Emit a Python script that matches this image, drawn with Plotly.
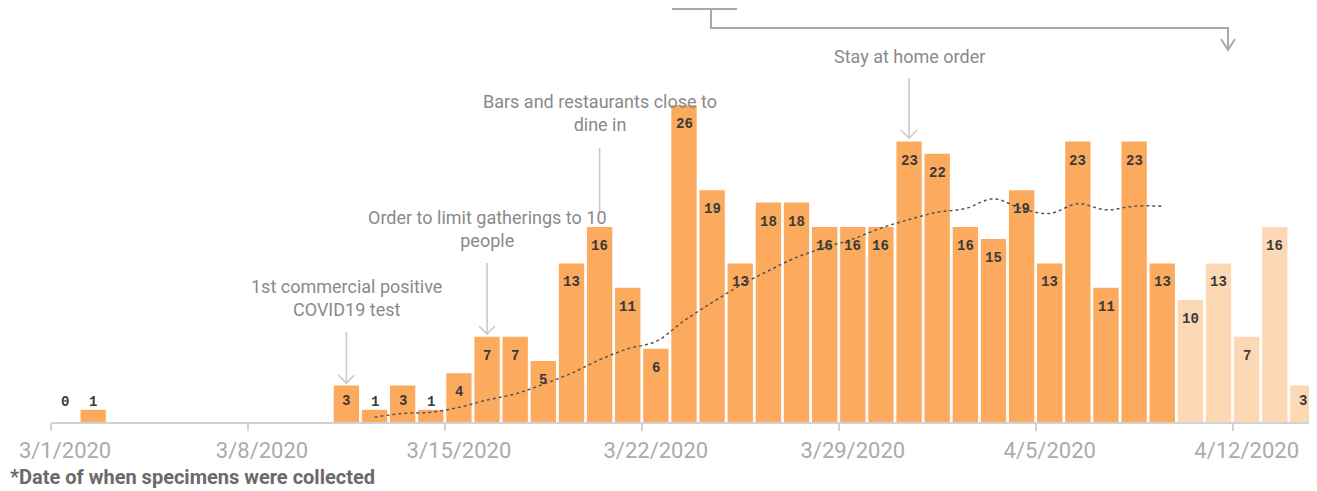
import pandas as pd
import plotly.graph_objects as go

# ---------------- data ----------------
dates = pd.date_range("2020-03-01", "2020-04-14", freq="D")
cases = [0, 1, None, None, None, None, None, None, None, None,
         3, 1, 3, 1, 4, 7, 7, 5, 13, 16,
         11, 6, 26, 19, 13, 18, 18, 16, 16, 16,
         23, 22, 16, 15, 19, 13, 23, 11, 23, 13,
         10, 13, 7, 16, 3]
preliminary_from = pd.Timestamp("2020-04-10")

avg_dates = pd.date_range("2020-03-12", "2020-04-09", freq="D")
avg_values = [0.4, 0.7, 0.8, 1.2, 1.8, 2.3, 3.1, 4.0, 5.1, 6.0,
              6.6, 8.3, 9.8, 11.2, 12.4, 13.5, 14.3, 15.0, 15.9, 16.6,
              17.2, 17.5, 18.3, 17.5, 17.1, 17.9, 17.4, 17.7, 17.7]

tick_dates = pd.date_range("2020-03-01", "2020-04-12", freq="7D")
tick_text = ["3/1/2020", "3/8/2020", "3/15/2020", "3/22/2020",
             "3/29/2020", "4/5/2020", "4/12/2020"]

events = [
    ("1st commercial positive<br>COVID19 test", "2020-03-11"),
    ("Order to limit gatherings to 10<br>people", "2020-03-16"),
    ("Bars and restaurants close to<br>dine in", "2020-03-20"),
    ("Stay at home order", "2020-03-31"),
]
footnote = "*Date of when specimens were collected"

# ---------------- styling ----------------
# The page places the figure 8px from the top-left corner of the window,
# so the layout below is measured in window pixels and shifted by OFF.
OFF = 8
W, H = 1317 - OFF, 491 - OFF
ML, MR, MT, MB = 51 - OFF, 0, 0, 491 - 422
PW, PH = W - ML - MR, H - MT - MB
DARK = "#FCAA5E"
LIGHT = "#FDD8B4"
GRID = "#d2d2d2"
ANN = "#8a8a8a"
DAY = pd.Timedelta(days=1)
YMAX = 33.95
NDAYS = len(dates)


def px_x(p):  # window pixel -> paper x
    return (p - OFF - ML) / PW


def px_y(p):  # window pixel -> paper y
    return (422 - p) / PH


colors = [LIGHT if d >= preliminary_from else DARK for d in dates]

fig = go.Figure()
fig.add_trace(go.Bar(
    x=dates, y=cases, marker=dict(color=colors, line=dict(width=0)),
    width=0.9 * DAY.total_seconds() * 1000, hoverinfo="x+y", showlegend=False))
fig.add_trace(go.Scatter(
    x=avg_dates, y=avg_values, mode="lines",
    line=dict(color="#555555", width=1.5, dash="dot", shape="spline"),
    showlegend=False, hoverinfo="skip"))
# invisible helper trace for the tick-mark axis
fig.add_trace(go.Scatter(x=dates, y=[None] * NDAYS, xaxis="x2",
                         showlegend=False, hoverinfo="skip"))

annotations = []
# value labels
for d, v in zip(dates, cases):
    if v is None:
        continue
    if v >= 4:
        yv, ys = v, -19
    elif v >= 2:
        yv, ys = v, -16
    else:
        yv, ys = 1, 8
    annotations.append(dict(
        x=d, y=yv, xref="x", yref="y", text=f"<b>{v}</b>", showarrow=False,
        yshift=ys, font=dict(family="Liberation Mono", size=14, color="#3a3a3a")))

shapes = []
line_style = dict(color="#c9c9c9", width=1.6)


def vee(xp, tip, half=8, h=8, color="#c9c9c9", width=1.6):
    return dict(type="path", xref="paper", yref="paper",
                path=(f"M {px_x(xp - half)},{px_y(tip - h)} L {px_x(xp)},{px_y(tip)} "
                      f"L {px_x(xp + half)},{px_y(tip - h)}"),
                line=dict(color=color, width=width))


# event annotations (text + pointer), in window pixels
ev_layout = {
    "2020-03-11": dict(text_y=298, line=(332, 383), head=True),
    "2020-03-16": dict(text_y=229, line=(263, 334), head=True),
    "2020-03-20": dict(text_y=113, line=(148, 212), head=False),
    "2020-03-31": dict(text_y=57, line=(78, 138), head=True),
}
x0_date = dates[0] - DAY / 2
for text, day in events:
    cfg = ev_layout[day]
    xc = OFF + ML + ((pd.Timestamp(day) - x0_date) / DAY) * (PW / NDAYS)
    annotations.append(dict(
        x=pd.Timestamp(day), xref="x", y=px_y(cfg["text_y"]), yref="paper",
        xanchor="center", yanchor="middle",
        text=text, showarrow=False, align="center",
        font=dict(family="Roboto", size=18, color=ANN)))
    y1, y2 = cfg["line"]
    shapes.append(dict(type="line", xref="paper", yref="paper",
                       x0=px_x(xc), x1=px_x(xc), y0=px_y(y1), y1=px_y(y2),
                       line=line_style))
    if cfg["head"]:
        shapes.append(vee(xc, y2))

# bracket at top
br = dict(color="#a9a9a9", width=2)
shapes += [
    dict(type="line", xref="paper", yref="paper", x0=px_x(672), x1=px_x(737),
         y0=px_y(9), y1=px_y(9), line=br),
    dict(type="path", xref="paper", yref="paper",
         path=(f"M {px_x(711)},{px_y(9)} L {px_x(711)},{px_y(28)} "
               f"L {px_x(1228)},{px_y(28)} L {px_x(1228)},{px_y(50)}"),
         line=br),
    vee(1228, 50, half=7, h=11, color="#a9a9a9", width=2),
]

annotations.append(dict(
    x=px_x(8), xref="paper", y=px_y(491), yref="paper", xanchor="left", yanchor="bottom",
    text=f"<b>{footnote}</b>", showarrow=False,
    font=dict(family="Roboto", size=20, color="#6a6a6a")))

xr = [dates[0] - DAY / 2, dates[-1] + DAY / 2]
fig.update_layout(
    width=W, height=H, margin=dict(l=ML, r=MR, t=MT, b=MB),
    plot_bgcolor="white", paper_bgcolor="white",
    bargap=0.08,
    xaxis=dict(type="date", range=xr, tickvals=tick_dates, ticktext=tick_text,
               ticks="", showgrid=False, zeroline=False,
               showline=True, linecolor=GRID, linewidth=2,
               ticklabelstandoff=8,
               tickfont=dict(family="Roboto", size=22, color="#ababab")),
    xaxis2=dict(type="date", range=xr, overlaying="x", anchor="y", side="bottom",
                tickvals=[d - DAY / 2 for d in tick_dates], ticks="outside",
                ticklen=8, tickwidth=2, tickcolor=GRID, showticklabels=False,
                showgrid=False, zeroline=False, showline=False),
    yaxis=dict(range=[0, YMAX], visible=False, fixedrange=True),
    annotations=annotations, shapes=shapes,
)

fig.write_html("out.html")
